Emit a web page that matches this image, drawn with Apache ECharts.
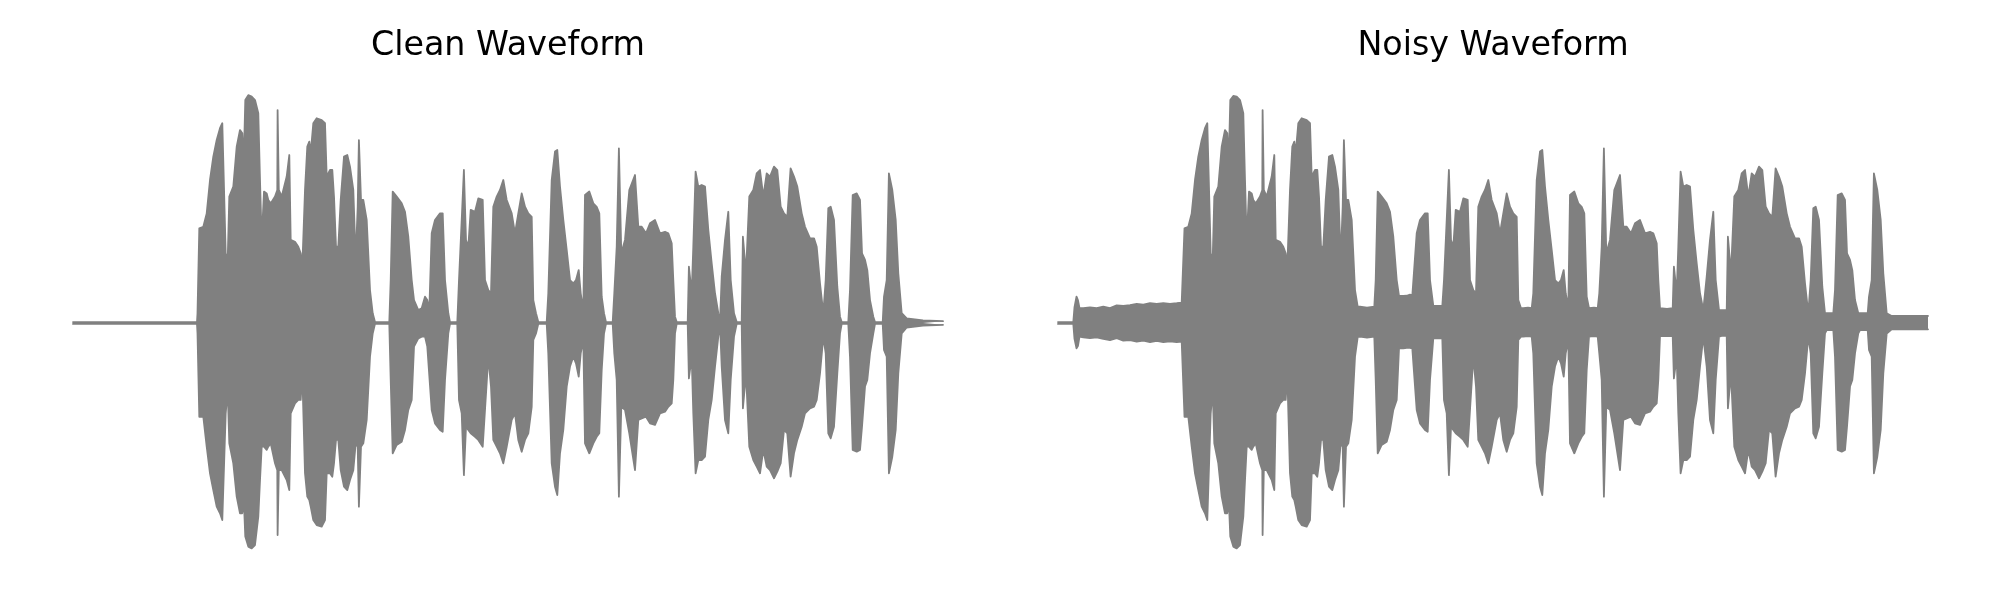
<!DOCTYPE html>
<html>
<head>
<meta charset="utf-8">
<script src="https://cdn.jsdelivr.net/npm/echarts@6/dist/echarts.min.js"></script>
<style>
html,body{margin:0;padding:0;background:#fff;}
#chart{width:2000px;height:600px;}
</style>
</head>
<body>
<div id="chart"></div>
<script>
// Panel titles
const panelTitles = ['Clean Waveform', 'Noisy Waveform'];

// Clean waveform envelope: [time, upper peak, lower peak]
const cleanEnvelope = [
[0,.004,-.004],[124,.004,-.004],[124.5,.043,-.046],[126.3,.417,-.413],[130.3,.424,-.413],[133.7,.483,-.545],
[137,.630,-.662],[140.3,.733,-.736],[143.7,.806,-.809],[147,.858,-.838],[149.3,.880,-.868],[151.3,.872,-.868],
[152.7,.307,-.398],[154.7,.278,-.295],[156.3,.557,-.530],[160.3,.601,-.618],[163.7,.777,-.765],[167,.850,-.838],
[169.3,.836,-.838],[170.7,.703,-.765],[172.3,.982,-.941],[175.3,1.004,-.985],[178.7,.997,-.993],[182,.982,-.978],
[185.3,.924,-.853],[187,.630,-.692],[188.7,.366,-.545],[191,.579,-.545],[193.7,.571,-.559],[195.3,.542,-.545],
[197.7,.527,-.530],[202,.557,-.618],[204.3,.586,-.648],[204.6,.938,-.934],[205.4,.938,-.934],[205.8,.586,-.648],[208.7,.557,-.648],
[213.7,.645,-.692],[216.3,.740,-.736],[217.7,.366,-.398],[222,.358,-.354],[225.3,.336,-.339],[227.7,.307,-.339],
[229.3,.248,-.222],[232,.586,-.662],[234.3,.777,-.765],[236.3,.799,-.780],[237.7,.747,-.809],[240.3,.880,-.868],
[243.7,.902,-.890],[248.7,.894,-.897],[252,.880,-.868],[253.7,.645,-.662],[257,.674,-.662],[259.3,.674,-.677],
[261,.557,-.618],[263,.336,-.515],[265.3,.336,-.515],[267.7,.542,-.648],[271,.733,-.721],[274.3,.740,-.736],
[277,.689,-.692],[280.3,.586,-.648],[282.7,.278,-.530],[284.7,.512,-.545],[285.9,.806,-.809],[286.7,.806,-.809],[288,.542,-.545],
[290.3,.542,-.530],[293.7,.454,-.427],[297,.145,-.148],[299.7,.043,-.046],[302,.004,-.004],[316.3,.004,-.004],
[317.7,.189,-.251],[319.7,.579,-.574],[323.7,.557,-.537],[328.7,.527,-.523],[332,.490,-.471],[335.3,.380,-.383],
[338.7,.189,-.339],[341,.101,-.104],[345.3,.057,-.068],[348.7,.065,-.060],[352,.116,-.060],[354.3,.101,-.104],
[356.3,.057,-.104],[358.7,.395,-.383],[362,.454,-.442],[367,.483,-.471],[369.7,.483,-.479],[372,.189,-.251],
[375.3,.043,-.046],[377,.004,-.004],[384.3,.004,-.004],[386,.189,-.339],[388.7,.454,-.398],[390.9,.674,-.670],[391.7,.674,-.670],
[393,.366,-.457],[395.3,.336,-.471],[397.7,.498,-.486],[402,.490,-.501],[405.3,.549,-.515],[409.7,.542,-.545],
[412,.189,-.383],[415.3,.145,-.148],[418,.131,-.280],[420.3,.512,-.515],[423.7,.557,-.545],[427,.586,-.574],
[430.3,.630,-.618],[433.7,.542,-.545],[438.7,.483,-.427],[442,.395,-.398],[445.3,.483,-.515],[448.7,.571,-.567],
[452,.512,-.515],[455.3,.483,-.486],[458.7,.468,-.369],[460.3,.101,-.075],[463,.043,-.046],[465.3,.004,-.004],
[473.7,.004,-.004],[475.3,.131,-.134],[478.7,.630,-.618],[482,.755,-.721],[484.3,.762,-.758],[487,.601,-.574],
[490.3,.454,-.471],[493.7,.322,-.280],[497,.189,-.192],[500.3,.175,-.148],[503,.189,-.178],[505.7,.233,-.236],
[507.7,.131,-.134],[510.3,.057,-.075],[512,.564,-.530],[516.3,.579,-.574],[520.3,.527,-.530],[523.7,.512,-.501],
[526.3,.483,-.486],[528.7,.116,-.207],[531,.043,-.046],[533,.004,-.004],[539.7,.004,-.004],[541.3,.131,-.134],
[543.7,.336,-.251],[545.9,.769,-.765],[546.7,.769,-.765],[548.3,.307,-.369],[552,.366,-.383],[556.3,.586,-.486],[562,.652,-.648],
[565.3,.424,-.427],[568.7,.424,-.420],[573,.395,-.413],[577,.439,-.442],[582,.454,-.449],[587,.395,-.398],
[592,.402,-.391],[595.3,.395,-.369],[598.7,.351,-.354],[600.3,.189,-.251],[602,.028,-.046],[603.7,.004,-.004],
[614.7,.004,-.004],[615.9,.248,-.244],[616.7,.248,-.244],[618.7,.131,-.148],[620.3,.336,-.398],[622.6,.667,-.662],[623.4,.667,-.662],[625.3,.601,-.604],
[628.7,.608,-.604],[632,.601,-.589],[635.3,.410,-.427],[638.7,.263,-.339],[642,.131,-.192],[645.3,.043,-.060],
[647,.004,-.004],[648.7,.204,-.192],[652,.366,-.427],[655.3,.490,-.486],[657.7,.189,-.251],[661,.043,-.060],
[663.7,.004,-.004],[668.7,.004,-.004],[669.9,.380,-.376],[670.7,.380,-.376],[673,.219,-.222],[676.3,.557,-.545],[680.3,.586,-.604],
[683.7,.659,-.633],[687,.674,-.662],[690.3,.557,-.559],[693.7,.659,-.633],[697,.645,-.648],[701,.689,-.684],
[704.3,.674,-.655],[707.7,.512,-.618],[711,.483,-.471],[714.3,.468,-.486],[717.6,.681,-.677],[718.4,.681,-.677],[721,.645,-.574],
[724.3,.601,-.515],[728.7,.483,-.457],[732,.424,-.398],[737,.373,-.376],[741,.373,-.369],[743.7,.336,-.339],
[747,.175,-.222],[750.3,.043,-.060],[752.7,.189,-.134],[755.3,.505,-.486],[757.7,.512,-.508],[761,.454,-.457],
[764.3,.160,-.222],[767,.028,-.046],[768.7,.004,-.004],[775.3,.004,-.004],[777,.145,-.148],[779.7,.564,-.559],
[783.7,.571,-.567],[787,.542,-.559],[789,.307,-.457],[792,.278,-.280],[794.3,.233,-.251],[797,.101,-.134],
[800.3,.028,-.046],[802,.004,-.004],[809.7,.004,-.004],[811,.116,-.119],[813.7,.189,-.148],[815.9,.659,-.662],[816.7,.659,-.662],
[819.3,.586,-.589],[822.7,.454,-.471],[825.3,.219,-.222],[828.7,.043,-.046],[833.7,.020,-.020],[850,.012,-.012],
[870,.008,-.008]
];

// Noisy waveform envelope: [time, upper peak, lower peak]
const noisyEnvelope = [
[0,.004,-.004],[15.3,.004,-.004],[16.5,.070,-.070],[18.5,.116,-.112],[20,.100,-.100],[21.5,.065,-.060],
[25.3,.065,-.063],[32,.069,-.067],[38.7,.065,-.063],[45.3,.072,-.070],[52,.066,-.075],[58.7,.078,-.067],
[65.3,.075,-.078],[72,.079,-.075],[78.7,.084,-.082],[85.3,.081,-.078],[92,.087,-.084],[98.7,.084,-.079],
[105.3,.087,-.084],[112,.084,-.081],[118.7,.087,-.084],[123.7,.090,-.082],[125.5,.090,-.082],[126.5,.417,-.413],
[130.3,.424,-.413],[133.7,.483,-.545],
[137,.630,-.662],[140.3,.733,-.736],[143.7,.806,-.809],[147,.858,-.838],[149.3,.880,-.868],[151.3,.872,-.868],
[152.7,.307,-.398],[154.7,.278,-.295],[156.3,.557,-.530],[160.3,.601,-.618],[163.7,.777,-.765],[167,.850,-.838],
[169.3,.836,-.838],[170.7,.703,-.765],[172.3,.982,-.941],[175.3,1.000,-.985],[178.7,.997,-.993],[182,.982,-.978],
[185.3,.924,-.853],[187,.630,-.692],[188.7,.366,-.545],[191,.579,-.545],[193.7,.571,-.559],[195.3,.542,-.545],
[197.7,.527,-.530],[202,.557,-.618],[204.3,.586,-.648],[204.6,.938,-.934],[205.4,.938,-.934],[205.8,.586,-.648],[208.7,.557,-.648],
[213.7,.645,-.692],[216.3,.740,-.736],[217.7,.366,-.398],[222,.358,-.354],[225.3,.336,-.339],[227.7,.307,-.339],
[229.3,.248,-.222],[232,.586,-.662],[234.3,.777,-.765],[236.3,.799,-.780],[237.7,.747,-.809],[240.3,.880,-.868],
[243.7,.902,-.890],[248.7,.894,-.897],[252,.880,-.868],[253.7,.645,-.662],[257,.674,-.662],[259.3,.674,-.677],
[261,.557,-.618],[263,.336,-.515],[265.3,.336,-.515],[267.7,.542,-.648],[271,.733,-.721],[274.3,.740,-.736],
[277,.689,-.692],[280.3,.586,-.648],[282.7,.278,-.530],[284.7,.512,-.545],[285.9,.806,-.809],[286.7,.806,-.809],[288,.542,-.545],
[290.3,.542,-.530],[293.7,.454,-.427],[297,.145,-.148],[299.7,.072,-.062],[302,.072,-.060],[309,.068,-.064],
[316.3,.072,-.060],
[317.7,.189,-.251],[319.7,.579,-.574],[323.7,.557,-.537],[328.7,.527,-.523],[332,.490,-.471],[335.3,.380,-.383],
[338.7,.189,-.339],[341,.119,-.112],[345.3,.119,-.112],[348.7,.120,-.110],[352,.125,-.110],[354.3,.120,-.112],
[356.3,.115,-.112],[358.7,.395,-.383],[362,.454,-.442],[367,.483,-.471],[369.7,.483,-.479],[372,.189,-.251],
[375.3,.075,-.068],[377,.075,-.068],[384.3,.075,-.068],[386,.189,-.339],[388.7,.454,-.398],[390.9,.674,-.670],[391.7,.674,-.670],
[393,.366,-.457],[395.3,.336,-.471],[397.7,.498,-.486],[402,.490,-.501],[405.3,.549,-.515],[409.7,.542,-.545],
[412,.189,-.383],[415.3,.145,-.148],[418,.131,-.280],[420.3,.512,-.515],[423.7,.557,-.545],[427,.586,-.574],
[430.3,.630,-.618],[433.7,.542,-.545],[438.7,.483,-.427],[442,.395,-.398],[445.3,.483,-.515],[448.7,.571,-.567],
[452,.512,-.515],[455.3,.483,-.486],[458.7,.468,-.369],[460.3,.101,-.075],[463,.065,-.060],[465.3,.065,-.060],
[470,.068,-.058],[473.7,.065,-.060],[475.3,.131,-.134],[478.7,.630,-.618],[482,.755,-.721],[484.3,.762,-.758],
[487,.601,-.574],[490.3,.454,-.471],[493.7,.322,-.280],[497,.189,-.192],[500.3,.175,-.148],[503,.189,-.178],
[505.7,.233,-.236],[507.7,.131,-.134],[510.3,.065,-.075],[512,.564,-.530],[516.3,.579,-.574],[520.3,.527,-.530],
[523.7,.512,-.501],[526.3,.483,-.486],[528.7,.116,-.207],[531,.065,-.060],[533,.065,-.060],[536,.068,-.058],
[539.7,.065,-.060],[541.3,.131,-.134],
[543.7,.336,-.251],[545.9,.769,-.765],[546.7,.769,-.765],[548.3,.307,-.369],[552,.366,-.383],[556.3,.586,-.486],[562,.652,-.648],
[565.3,.424,-.427],[568.7,.424,-.420],[573,.395,-.413],[577,.439,-.442],[582,.454,-.449],[587,.395,-.398],
[592,.402,-.391],[595.3,.395,-.369],[598.7,.351,-.354],[600.3,.189,-.251],[602,.065,-.057],[603.7,.065,-.057],
[609,.062,-.058],[614.7,.065,-.057],[615.9,.248,-.244],[616.7,.248,-.244],[618.7,.131,-.148],[620.3,.336,-.398],[622.6,.667,-.662],[623.4,.667,-.662],
[625.3,.601,-.604],[628.7,.608,-.604],[632,.601,-.589],[635.3,.410,-.427],[638.7,.263,-.339],[642,.131,-.192],
[645.3,.057,-.060],[647,.057,-.053],[648.7,.204,-.192],[652,.366,-.427],[655.3,.490,-.486],[657.7,.189,-.251],
[661,.057,-.060],[663.7,.057,-.057],[668.7,.057,-.057],[669.9,.380,-.376],[670.7,.380,-.376],[673,.219,-.222],[676.3,.557,-.545],
[680.3,.586,-.604],[683.7,.659,-.633],[687,.674,-.662],[690.3,.557,-.559],[693.7,.659,-.633],[697,.645,-.648],
[701,.689,-.684],[704.3,.674,-.655],[707.7,.512,-.618],[711,.483,-.471],[714.3,.468,-.486],[717.6,.681,-.677],[718.4,.681,-.677],
[721,.645,-.574],[724.3,.601,-.515],[728.7,.483,-.457],[732,.424,-.398],[737,.373,-.376],[741,.373,-.369],
[743.7,.336,-.339],[747,.175,-.222],[750.3,.043,-.060],[752.7,.189,-.134],[755.3,.505,-.486],[757.7,.512,-.508],
[761,.454,-.457],[764.3,.160,-.222],[767,.043,-.046],[768.7,.043,-.031],[775.3,.043,-.031],[777,.145,-.148],
[779.7,.564,-.559],[783.7,.571,-.567],[787,.542,-.559],[789,.307,-.457],[792,.278,-.280],[794.3,.233,-.251],
[797,.101,-.134],[800.3,.043,-.046],[802,.043,-.031],[809.7,.043,-.031],[811,.116,-.119],[813.7,.189,-.148],
[815.9,.659,-.662],[816.7,.659,-.662],[819.3,.586,-.589],[822.7,.454,-.471],[825.3,.219,-.222],[828.7,.043,-.046],[833.7,.031,-.028],
[850,.031,-.028],[870,.031,-.028]
];

const panels = [cleanEnvelope, noisyEnvelope];
const grids = [
  {left: 73, top: 96, width: 870, height: 454},
  {left: 1058, top: 96, width: 870, height: 454}
];
const GRAY = '#808080';

const chart = echarts.init(document.getElementById('chart'), null, {renderer: 'canvas'});
const series = [];
panels.forEach((env, i) => {
  const upper = env.map(r => [r[0], r[1]]);
  const lower = env.map(r => [r[0], r[2]]);
  [upper, lower].forEach(d => {
    series.push({
      type: 'line', xAxisIndex: i, yAxisIndex: i, data: d,
      symbol: 'none', clip: false, smooth: false,
      lineStyle: {color: GRAY, width: 1.8, cap: 'round', join: 'round'},
      areaStyle: {color: GRAY, opacity: 1, origin: 0},
      silent: true
    });
  });
});

chart.setOption({
  animation: false,
  backgroundColor: '#ffffff',
  title: panelTitles.map((t, i) => ({
    text: t,
    left: grids[i].left + grids[i].width / 2 - 5,
    top: 25,
    textAlign: 'center',
    textStyle: {fontFamily: 'DejaVu Sans', fontSize: 33.3, fontWeight: 'normal', color: '#000'}
  })),
  grid: grids,
  xAxis: grids.map((g, i) => ({type: 'value', gridIndex: i, min: 0, max: 870, show: false})),
  yAxis: grids.map((g, i) => ({type: 'value', gridIndex: i, min: -1, max: 1, show: false})),
  series: series
});
</script>
</body>
</html>
